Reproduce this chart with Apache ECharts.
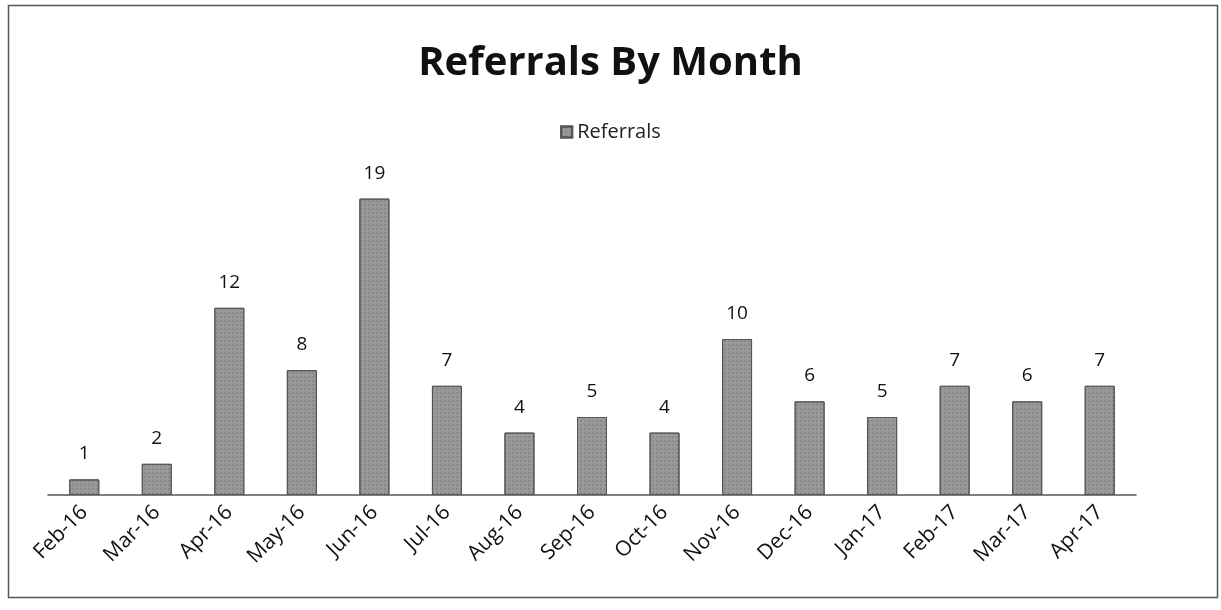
<!DOCTYPE html>
<html><head><meta charset="utf-8">
<script src="https://cdn.jsdelivr.net/npm/echarts@6/dist/echarts.min.js"></script>
<style>html,body{margin:0;padding:0;background:#fff}#c{width:1221px;height:610px}</style>
</head><body><div id="c"></div>
<script>
const categories = ['Feb-16','Mar-16','Apr-16','May-16','Jun-16','Jul-16','Aug-16','Sep-16','Oct-16','Nov-16','Dec-16','Jan-17','Feb-17','Mar-17','Apr-17'];
const referrals = [1,2,12,8,19,7,4,5,4,10,6,5,7,6,7];
const seriesName = 'Referrals';
const titleText = 'Referrals By Month';

const chart = echarts.init(document.getElementById('c'));
chart.setOption({
  animation: false,
  textStyle: { fontFamily: '"Open Sans", Lato, sans-serif' },
  graphic: [{ type: 'rect', shape: { x: 8.5, y: 5.5, width: 1209, height: 592 }, style: { fill: 'none', stroke: '#555', lineWidth: 1.5 }, silent: true }],
  title: { text: titleText, left: 'center', top: 39, textStyle: { fontSize: 40, fontWeight: 'bold', color: '#111', fontFamily: '"Open Sans", Lato, sans-serif' } },
  legend: { data: [seriesName], top: 117, left: 'center', icon: 'rect', itemWidth: 11, itemHeight: 11, itemGap: 6, textStyle: { fontSize: 20, color: '#222' } },
  grid: { left: 48, right: 85, top: 183, bottom: 115, containLabel: false },
  xAxis: {
    type: 'category', data: categories,
    axisLine: { lineStyle: { color: '#555', width: 1.5 } },
    axisTick: { show: false },
    axisLabel: { rotate: 45, fontSize: 21, color: '#111', margin: 14 }
  },
  yAxis: { type: 'value', min: 0, max: 20, show: false, splitLine: { show: false } },
  series: [{
    name: seriesName, type: 'bar', data: referrals, barWidth: 30,
    itemStyle: { color: '#999', borderColor: '#555', borderWidth: 1, decal: { symbol: 'rect', symbolSize: 0.5, color: 'rgba(40,40,40,0.55)', dashArrayX: [2, 2], dashArrayY: [2, 2] } },
    label: { show: true, position: 'top', distance: 16, fontSize: 19, color: '#111' }
  }],
  aria: { enabled: false }
});
</script></body></html>
